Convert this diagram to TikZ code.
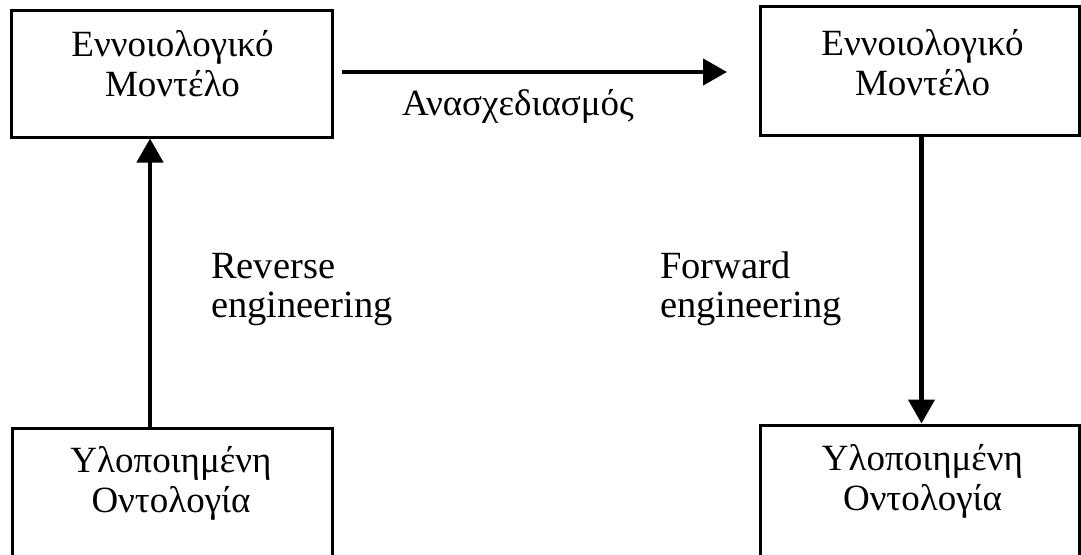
\documentclass[tikz,border=0pt]{standalone}
\usepackage{fontspec}
\setmainfont{Liberation Serif}
\usetikzlibrary{arrows.meta}
\tikzset{
  box/.style={draw=black, line width=3pt, inner sep=0pt, fill=white},
  lbl/.style={align=center, anchor=base, inner sep=0pt, font=\fontsize{37}{40}\selectfont},
  side/.style={align=left, anchor=base west, inner sep=0pt, font=\fontsize{38.5}{39}\selectfont},
  arr/.style={line width=4.5pt, -{Triangle[length=24pt,width=26pt]}}
}
\begin{document}
\begin{tikzpicture}[x=1pt,y=-1pt]
\clip (0,0) rectangle (1081,554);
\fill[white] (0,0) rectangle (1081,554);
\node[box, minimum width=321pt, minimum height=127pt] (tl) at (171.5,73.5) {};
\node[box, minimum width=319pt, minimum height=129pt] (tr) at (919.5,70.5) {};
\node[box, minimum width=320pt, minimum height=172pt] (bl) at (172,514) {};
\node[box, minimum width=319pt, minimum height=175pt] (br) at (919.5,512.5) {};
\node[lbl] (tlt) at (172.5,96) {Εννοιολογικό\\Μοντέλο};
\node[lbl] (trt) at (922.5,95) {Εννοιολογικό\\Μοντέλο};
\node[lbl] (blt) at (171,512) {Υλοποιημένη\\Οντολογία};
\node[lbl] (brt) at (922.5,510) {Υλοποιημένη\\Οντολογία};
\coordinate (upx) at (150,0);
\coordinate (dnx) at (921.5,0);
\coordinate (hs) at (342,72);
\coordinate (he) at (727,72);
\draw[arr] (bl.north -| upx) -- (tl.south -| upx);
\draw[arr] (tr.south -| dnx) -- (br.north -| dnx);
\draw[arr] (hs) -- (he);
\node[lbl] (ana) at (518,115) {Ανασχεδιασμός};
\node[side] (rev) at (211,317) {Reverse\\engineering};
\node[side] (fwd) at (660,317) {Forward\\engineering};
\end{tikzpicture}
\end{document}
